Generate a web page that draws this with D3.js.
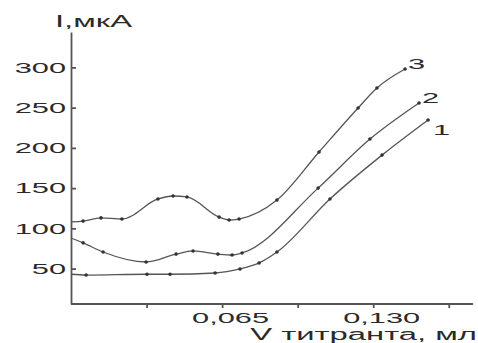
<!DOCTYPE html>
<html>
<head>
<meta charset="utf-8">
<script src="https://cdn.jsdelivr.net/npm/d3@7"></script>
<style>
  body { margin: 0; background: #fff; }
  text { font-family: "Liberation Sans", Arial, sans-serif; fill: #2a2a2a; }
  .line { fill: none; stroke: #555; stroke-width: 1.3; }
  .dot { fill: #333; }
  .axis path, .axis line { stroke: #555; stroke-width: 1.8; }
</style>
</head>
<body>
<script>
// readings (V, ml  /  I, uA)
const v1 = [0, 0.0065, 0.0327, 0.0426, 0.062, 0.0727, 0.0809, 0.0886, 0.1114, 0.1338, 0.1536];
const i1 = [43, 42, 43, 43, 44.5, 49.5, 57, 70.6, 136.5, 191, 234.6];
const v2 = [0, 0.0052, 0.0138, 0.0323, 0.0452, 0.0525, 0.0632, 0.0693, 0.0736, 0.1063, 0.1286, 0.1497];
const i2 = [88, 82, 70.6, 58.2, 68, 71.9, 68, 66.9, 69.4, 150, 211, 255.8];
const v3 = [0, 0.0052, 0.0129, 0.0219, 0.0374, 0.0439, 0.0499, 0.0637, 0.068, 0.0723, 0.0886, 0.1067, 0.1235, 0.1316, 0.1437];
const i3 = [108, 109, 113, 111.6, 136.5, 140.2, 139, 114, 110.4, 111.6, 135.2, 194.9, 249.6, 274.4, 298];
const seriesNames = ["1", "2", "3"];
const yTicks = [50, 100, 150, 200, 250, 300];
const xTicks = [0.0325, 0.065, 0.0975, 0.13, 0.1625];
const xTickLabels = ["", "0,065", "", "0,130", ""];
const yTitle = "I,мкА";
const xTitle = "V титранта, мл";

const W = 478, H = 343;
const stretch = 2.05; // the source figure is squeezed: text is wide

let svg = d3.select("body").append("svg")
  .attr("width", W)
  .attr("height", H);

let xScale = d3.scaleLinear().domain([0, 0.1725]).range([71, 472]);
let yScale = d3.scaleLinear().domain([6, 344]).range([304, 32]);

function widen(sel) {
  sel.each(function() {
    let len = this.getComputedTextLength();
    d3.select(this).attr("textLength", len * stretch).attr("lengthAdjust", "spacingAndGlyphs");
  });
}

// y axis, ticks pointing inside
let gy = svg.append("g")
  .attr("class", "axis")
  .attr("transform", "translate(71,0)")
  .call(d3.axisLeft(yScale).tickValues(yTicks).tickSizeInner(-5).tickSizeOuter(0).tickPadding(5));
gy.selectAll("text").attr("font-size", 15).style("font-family", null).call(widen);

// x axis
let gx = svg.append("g")
  .attr("class", "axis")
  .attr("transform", "translate(0,304)")
  .call(d3.axisBottom(xScale).tickValues(xTicks).tickSizeInner(4).tickSizeOuter(0)
    .tickFormat((d, i) => xTickLabels[i]));
gx.selectAll("text").attr("font-size", 15).attr("dy", null).attr("y", 19).attr("dx", 8)
  .style("font-family", null).call(widen);
gx.selectAll(".domain").attr("d", "M71,0H473");

// titles
svg.append("text").attr("x", 55).attr("y", 27).attr("font-size", 16).text(yTitle).call(widen);
svg.append("text").attr("x", 477).attr("y", 340).attr("text-anchor", "end")
  .attr("font-size", 16).text(xTitle).call(widen);

let line = d3.line()
  .x(d => xScale(d.v))
  .y(d => yScale(d.i))
  .curve(d3.curveMonotoneX);

let series = [[v1, i1], [v2, i2], [v3, i3]].map((s, k) => ({
  name: seriesNames[k],
  pts: s[0].map((v, j) => ({ v: v, i: s[1][j] }))
}));

// label offsets from the last point
const labelOffset = { "1": [5, 15], "2": [3, 0], "3": [3, 0] };

series.forEach(s => {
  svg.append("path").datum(s.pts).attr("class", "line").attr("d", line);
  svg.selectAll(null).data(s.pts.slice(1)).enter().append("circle")
    .attr("class", "dot")
    .attr("cx", d => xScale(d.v))
    .attr("cy", d => yScale(d.i))
    .attr("r", 1.8);
  let last = s.pts[s.pts.length - 1];
  svg.append("text")
    .attr("x", xScale(last.v) + labelOffset[s.name][0])
    .attr("y", yScale(last.i) + labelOffset[s.name][1])
    .attr("font-size", 15)
    .text(s.name).call(widen);
});
</script>
</body>
</html>
